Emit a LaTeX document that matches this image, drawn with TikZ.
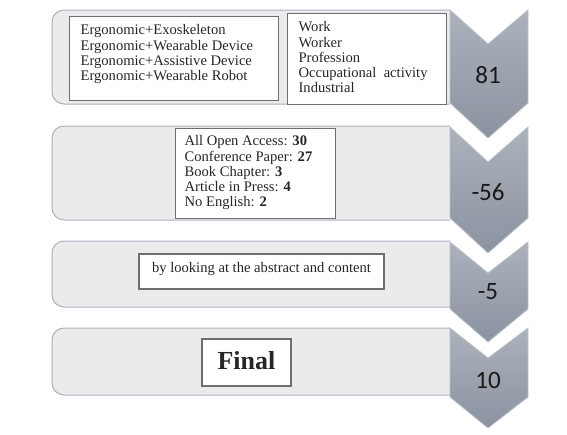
\documentclass[tikz,border=0pt]{standalone}
\usepackage{fontspec}
\setmainfont{Liberation Serif}
\newfontfamily\cifras{Carlito}
\usepackage{color}

\definecolor{fondopanel}{HTML}{EBEBEB}
\definecolor{bordepanel}{HTML}{A9B2BF}
\definecolor{chevarriba}{HTML}{ACB2BC}
\definecolor{chevabajo}{HTML}{8B93A0}
\definecolor{bordechev}{HTML}{BAC0C9}
\definecolor{bordecaja}{HTML}{6E6E6E}

\begin{document}
\begin{tikzpicture}[x=1pt, y=-1pt,
  panel/.style={fill=fondopanel, draw=bordepanel, line width=1pt, rounded corners=12pt},
  chevron/.style={top color=chevarriba, bottom color=chevabajo, draw=bordechev, line width=0.8pt},
  caja/.style={draw=bordecaja, fill=white, line width=1.2pt, font=\fontsize{14.6}{15.3}\selectfont, text=black!85},
  cifra/.style={font=\cifras\fontsize{25}{29}\selectfont, text=black!90}]
  \useasboundingbox (0,0) rectangle (567,434);

  % Paneles
  \foreach \t/\b in {10/104, 126/220, 241/307, 328/395}
    \filldraw[panel] (450,\t) -- (52,\t) -- (52,\b) -- (450,\b);

  % Flechas
  \foreach \t/\m/\s/\p in {10/44/103/138, 127/162/218/253, 242/273/309/342, 328/358/397/428}
    \draw[chevron] (450,\t) -- (488,\m) -- (528,\t) -- (528,\s) -- (488,\p) -- (450,\s) -- cycle;

  % Cajas de texto
  \node[caja, anchor=north west, inner xsep=11pt, inner ysep=8pt] (claves) at (69,16)
    {\parbox[t][68pt][t]{187pt}{Ergonomic+Exoskeleton\\ Ergonomic+Wearable Device\\
      Ergonomic+Assistive Device\\ Ergonomic+Wearable Robot}};
  \node[caja, anchor=north west, inner xsep=11pt, inner ysep=8pt] (terminos) at (287,13)
    {\parbox[t][75pt][t]{137pt}{Work\\ Worker\\ Profession\\ Occupational~ activity\\ Industrial}};
  \node[caja, anchor=north west, inner xsep=9pt, inner ysep=7pt] (filtros) at (175,128)
    {\parbox[t][76pt][t]{142pt}{All Open Access: \textbf{30}\\ Conference Paper: \textbf{27}\\
      Book Chapter: \textbf{3}\\ Article in Press: \textbf{4}\\ No English: \textbf{2}}};
  \node[caja, minimum width=245pt, minimum height=35pt, text height=10pt, text depth=9pt]
    (cribado) at (261.5,271.5) {by looking at the abstract and content};
  \node[caja, minimum width=89pt, minimum height=47pt, text depth=5pt,
    font=\bfseries\fontsize{26}{30}\selectfont] (final) at (246.5,362.5) {Final};

  % Cifras
  \node[cifra] (n81) at (488,75) {81};
  \node[cifra] (n56) at (488,192) {-56};
  \node[cifra] (n5) at (488,292) {-5};
  \node[cifra] (n10) at (488,380) {10};

\end{tikzpicture}
\end{document}
